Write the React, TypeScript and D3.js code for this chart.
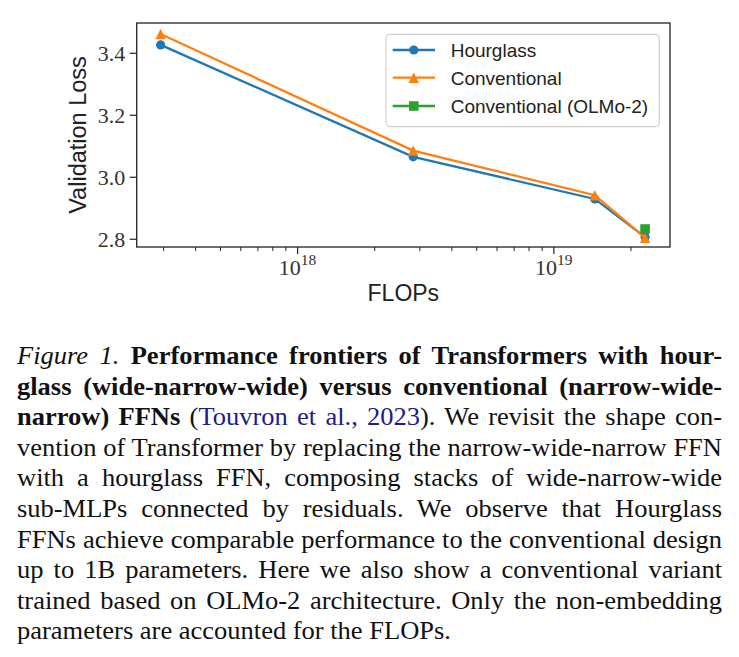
import React, { useEffect, useLayoutEffect, useRef } from "react";
import * as d3 from "d3";

// Training compute (FLOPs) and validation loss for each model size
const flops = [2.92e17, 2.825e18, 1.445e19, 2.27e19];
const hourglassLoss = [3.427, 3.066, 2.930, 2.807];
const conventionalLoss = [3.462, 3.086, 2.942, 2.805];
const olmoFlops = [2.27e19];
const olmoLoss = [2.833];

const yTicks = [2.8, 3.0, 3.2, 3.4];
const xMajorTicks = [1e18, 1e19];
const xMinorTicks = [3e17, 4e17, 5e17, 6e17, 7e17, 8e17, 9e17, 2e18, 3e18, 4e18, 5e18, 6e18, 7e18, 8e18, 9e18, 2e19];

const seriesNames = ["Hourglass", "Conventional", "Conventional (OLMo-2)"];
const seriesColors = ["#1f77b4", "#ff7f0e", "#2ca02c"];

type Seg = { t: string; s?: "i" | "b" | "c" };
const captionLines: Seg[][] = [
  [{ t: "Figure 1.", s: "i" }, { t: " Performance frontiers of Transformers with hour-", s: "b" }],
  [{ t: "glass (wide-narrow-wide) versus conventional (narrow-wide-", s: "b" }],
  [{ t: "narrow) FFNs", s: "b" }, { t: " (" }, { t: "Touvron et al., 2023", s: "c" }, { t: "). We revisit the shape con-" }],
  [{ t: "vention of Transformer by replacing the narrow-wide-narrow FFN" }],
  [{ t: "with a hourglass FFN, composing stacks of wide-narrow-wide" }],
  [{ t: "sub-MLPs connected by residuals. We observe that Hourglass" }],
  [{ t: "FFNs achieve comparable performance to the conventional design" }],
  [{ t: "up to 1B parameters. Here we also show a conventional variant" }],
  [{ t: "trained based on OLMo-2 architecture. Only the non-embedding" }],
  [{ t: "parameters are accounted for the FLOPs." }],
];

const W = 739;
const H = 657;
const plot = { left: 136.7, right: 670, top: 23, bottom: 247 };
const sansFont = "'Liberation Sans', Arial, sans-serif";
const serifFont = "'Liberation Serif', 'Times New Roman', serif";

function Marker({ kind, x, y, color }: { kind: number; x: number; y: number; color: string }) {
  if (kind === 0) return <circle cx={x} cy={y} r={4.6} fill={color} />;
  if (kind === 1) {
    const r = 5.2;
    return <path d={`M${x},${y - r} L${x - r},${y + r} L${x + r},${y + r} Z`} fill={color} />;
  }
  return <rect x={x - 4.8} y={y - 4.8} width={9.6} height={9.6} fill={color} />;
}

export default function App() {
  const captionRef = useRef<SVGGElement>(null);

  useEffect(() => {
    document.body.style.margin = "0";
  }, []);

  const x = d3.scaleLog().domain([2.355e17, 2.84e19]).range([plot.left, plot.right]);
  const y = d3.scaleLinear().domain([2.775, 3.4977]).range([plot.bottom, plot.top]);
  const line = d3
    .line<[number, number]>()
    .x((d) => x(d[0]))
    .y((d) => y(d[1]));

  const series = [
    { xs: flops, ys: hourglassLoss },
    { xs: flops, ys: conventionalLoss },
    { xs: olmoFlops, ys: olmoLoss },
  ];

  // Caption block: Times-like face, slightly widened, lines justified
  const capLeft = 17;
  const capRight = 722;
  const capScaleX = 1.06;
  useLayoutEffect(() => {
    const g = captionRef.current;
    if (!g) return;
    const texts = Array.from(g.querySelectorAll("text")) as SVGTextElement[];
    const target = (capRight - capLeft) / capScaleX;
    texts.forEach((el, i) => {
      el.setAttribute("word-spacing", "0");
      if (i === texts.length - 1) return;
      const natural = el.getComputedTextLength();
      const str = el.textContent || "";
      const spaces = (str.match(/ /g) || []).length;
      if (spaces > 0) {
        const extra = (target - natural) / spaces;
        el.setAttribute("word-spacing", String(extra));
      }
    });
  }, []);

  const legendRows = [50, 77.7, 106];

  return (
    <svg width={W} height={H} style={{ display: "block", background: "#fff" }}>
      <rect width={W} height={H} fill="#fff" />

      {/* series */}
      {series.map((s, k) => {
        const pts = s.xs.map((v, i) => [v, s.ys[i]] as [number, number]);
        return (
          <g key={k}>
            <path d={line(pts) || ""} fill="none" stroke={seriesColors[k]} strokeWidth={2.3} />
            {pts.map((p, i) => (
              <Marker key={i} kind={k} x={x(p[0])} y={y(p[1])} color={seriesColors[k]} />
            ))}
          </g>
        );
      })}

      {/* frame */}
      <rect
        x={plot.left}
        y={plot.top}
        width={plot.right - plot.left}
        height={plot.bottom - plot.top}
        fill="none"
        stroke="#222"
        strokeWidth={1.3}
      />

      {/* y axis */}
      {yTicks.map((t) => (
        <g key={t}>
          <line x1={plot.left - 7} x2={plot.left} y1={y(t)} y2={y(t)} stroke="#222" strokeWidth={1.2} />
          <text x={plot.left - 11.5} y={y(t) + 7.6} textAnchor="end" fontFamily={serifFont} fontSize={22} fill="#333">
            {d3.format(".1f")(t)}
          </text>
        </g>
      ))}

      {/* x axis */}
      {xMinorTicks.map((t) => (
        <line key={t} x1={x(t)} x2={x(t)} y1={plot.bottom} y2={plot.bottom + 4} stroke="#222" strokeWidth={1} />
      ))}
      {xMajorTicks.map((t) => (
        <g key={t}>
          <line x1={x(t)} x2={x(t)} y1={plot.bottom} y2={plot.bottom + 7} stroke="#222" strokeWidth={1.2} />
          <text x={x(t)} y={275} textAnchor="middle" fontFamily={serifFont} fontSize={22} fill="#333">
            10
            <tspan dy={-10} fontSize={15.5}>
              {Math.round(Math.log10(t))}
            </tspan>
          </text>
        </g>
      ))}

      {/* axis titles */}
      <text x={(plot.left + plot.right) / 2} y={301} textAnchor="middle" fontFamily={sansFont} fontSize={23} fill="#222">
        FLOPs
      </text>
      <text
        transform={`translate(86,${(plot.top + plot.bottom) / 2}) rotate(-90)`}
        textAnchor="middle"
        fontFamily={sansFont}
        fontSize={23.5}
        fill="#222"
      >
        Validation Loss
      </text>

      {/* legend */}
      <rect x={386} y={34.3} width={273.3} height={92.4} rx={4} fill="#fff" fillOpacity={0.85} stroke="#d0d0d0" strokeWidth={1.2} />
      {seriesNames.map((name, k) => (
        <g key={name}>
          <line x1={392.7} x2={435} y1={legendRows[k]} y2={legendRows[k]} stroke={seriesColors[k]} strokeWidth={2.3} />
          <Marker kind={k} x={413.8} y={legendRows[k]} color={seriesColors[k]} />
          <text x={450.7} y={legendRows[k] + 6.8} fontFamily={sansFont} fontSize={19} fill="#222">
            {name}
          </text>
        </g>
      ))}

      {/* caption */}
      <g
        ref={captionRef}
        transform={`translate(${capLeft},0) scale(${capScaleX},1)`}
        fontFamily={serifFont}
        fontSize={25}
        fill="#111"
      >
        {captionLines.map((segs, i) => (
          <text key={i} x={0} y={364 + i * 30.6}>
            {segs.map((sg, j) => (
              <tspan
                key={j}
                fontStyle={sg.s === "i" ? "italic" : undefined}
                fontWeight={sg.s === "b" ? "bold" : undefined}
                fill={sg.s === "c" ? "#1c1c8c" : undefined}
              >
                {sg.t}
              </tspan>
            ))}
          </text>
        ))}
      </g>
    </svg>
  );
}
